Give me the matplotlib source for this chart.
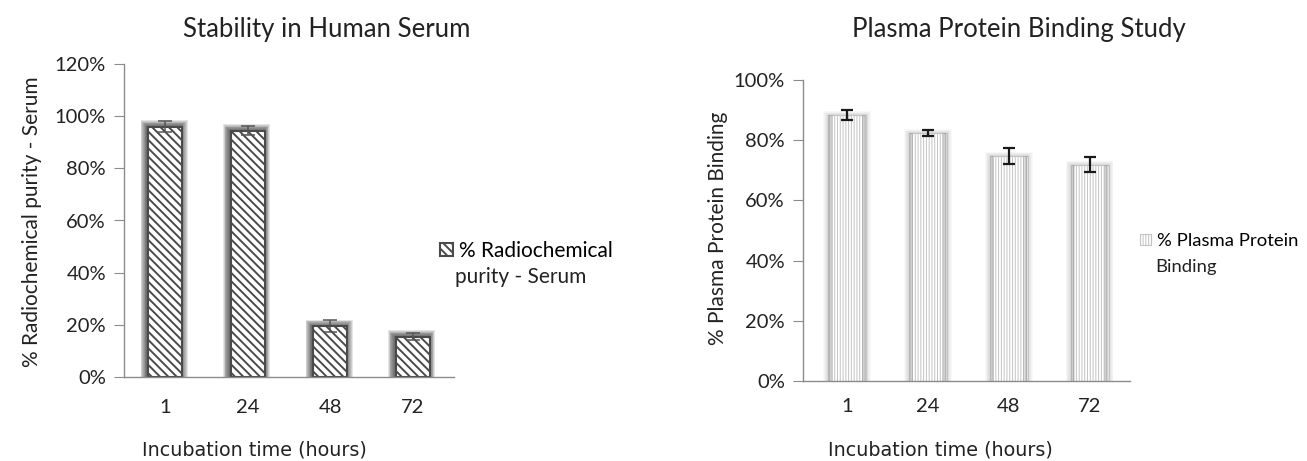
import numpy as np
import matplotlib
matplotlib.use("Agg")
import matplotlib.pyplot as plt
from matplotlib.ticker import PercentFormatter

# data
hours = ["1", "24", "48", "72"]
serum_purity = [96.0, 94.5, 19.5, 15.5]
serum_err = [2.2, 1.8, 2.3, 1.2]
protein_binding = [88.4, 82.4, 74.8, 71.8]
binding_err = [1.6, 1.0, 2.6, 2.5]

LABEL_FONT = ["Lato", "DejaVu Sans"]
AXIS_FONT = ["DejaVu Sans"]
W, H = 1307, 461


def px(x, y):
    """pixel position (from top-left) to figure fraction"""
    return x / W, 1 - y / H


def style_axes(ax, ymax):
    for side in ("top", "right"):
        ax.spines[side].set_visible(False)
    for side in ("left", "bottom"):
        ax.spines[side].set_color("#8c8c8c")
        ax.spines[side].set_linewidth(1.0)
    ax.set_ylim(0, ymax)
    ax.set_yticks(np.arange(0, ymax + 1, 20))
    ax.yaxis.set_major_formatter(PercentFormatter(decimals=0))
    ax.tick_params(axis="y", direction="out", length=7, color="#8c8c8c",
                   labelsize=14.5, pad=6, labelcolor="#222222")
    ax.tick_params(axis="x", length=0, labelsize=14.5, labelcolor="#222222")
    for lbl in ax.get_xticklabels() + ax.get_yticklabels():
        lbl.set_family(LABEL_FONT)


fig = plt.figure(figsize=(W / 100, H / 100), dpi=100)
x = np.arange(len(hours))

# ---- left panel: serum stability ----
ax1 = fig.add_axes([124 / W, 84 / H, 330 / W, 313 / H])
vals = np.array(serum_purity)
# dark glow behind bars, heavier on the left
for k in range(1, 9):
    ax1.bar(x - 0.015, vals + k * 0.3, width=0.41 + k * 0.02, color="0.15",
            alpha=0.12, linewidth=0, zorder=1)
plt.rcParams["hatch.linewidth"] = 1.4
bars1 = ax1.bar(x, vals, width=0.41, color="white", edgecolor="#4a4a4a",
                linewidth=1.5, hatch="\\\\\\\\", zorder=2,
                label="% Radiochemical")
ax1.errorbar(x, vals, yerr=serum_err, fmt="none", ecolor="#555555",
             elinewidth=1.1, capsize=5, capthick=1.1, zorder=3)
ax1.set_xlim(-0.5, 3.5)
ax1.set_xticks(x, hours)
style_axes(ax1, 120)
ax1.tick_params(axis="x", pad=16)

fig.text(*px(327, 29), "Stability in Human Serum", ha="center", va="center",
         fontsize=18.5, family=LABEL_FONT, color="#222222")
fig.text(*px(254, 450), "Incubation time (hours)", ha="center", va="center",
         fontsize=13.8, family=AXIS_FONT, color="#222222")
fig.text(*px(32, 222), "% Radiochemical purity - Serum", ha="center",
         va="center", rotation=90, fontsize=15, family=LABEL_FONT,
         color="#222222")
ax1.legend(handles=[bars1], loc="center left",
           bbox_to_anchor=px(440, 251), bbox_transform=fig.transFigure,
           frameon=False, handlelength=0.6, handleheight=0.6,
           handletextpad=0.3, borderpad=0, borderaxespad=0,
           prop={"family": LABEL_FONT, "size": 15})
fig.text(*px(455, 277), "purity - Serum", ha="left", va="center",
         fontsize=15, family=LABEL_FONT, color="#222222")

# ---- right panel: plasma protein binding ----
plt.rcParams["hatch.linewidth"] = 0.7
ax2 = fig.add_axes([803 / W, 80 / H, 327 / W, 301 / H])
vals2 = np.array(protein_binding)
for k in range(1, 7):
    ax2.bar(x, vals2 + k * 0.2, width=0.47 + k * 0.02, color="0.45",
            alpha=0.045, linewidth=0, zorder=1)
bars2 = ax2.bar(x, vals2, width=0.47, color="white", edgecolor="#c4c4c4",
                linewidth=0.8, hatch="||||||", zorder=2,
                label="% Plasma Protein")
# darker shading on bar sides
for off, a in ((-0.2, 0.22), (-0.215, 0.2), (0.2, 0.22), (0.215, 0.2)):
    ax2.bar(x + off, vals2, width=0.04, color="0.5", alpha=a,
            linewidth=0, zorder=2.5)
ax2.errorbar(x, vals2, yerr=binding_err, fmt="none", ecolor="#1a1a1a",
             elinewidth=1.6, capsize=4.5, capthick=1.6, zorder=3)
ax2.set_xlim(-0.545, 3.5)
ax2.set_xticks(x, hours)
style_axes(ax2, 100)
ax2.tick_params(axis="x", pad=12)

fig.text(*px(1019, 29), "Plasma Protein Binding Study", ha="center",
         va="center", fontsize=18.5, family=LABEL_FONT, color="#222222")
fig.text(*px(940, 450), "Incubation time (hours)", ha="center", va="center",
         fontsize=13.8, family=AXIS_FONT, color="#222222")
fig.text(*px(718, 228), "% Plasma Protein Binding", ha="center",
         va="center", rotation=90, fontsize=15, family=LABEL_FONT,
         color="#222222")
ax2.legend(handles=[bars2], loc="center left",
           bbox_to_anchor=px(1140, 241), bbox_transform=fig.transFigure,
           frameon=False, handlelength=0.6, handleheight=0.6,
           handletextpad=0.3, borderpad=0, borderaxespad=0,
           prop={"family": LABEL_FONT, "size": 13.3})
fig.text(*px(1155, 267), "Binding", ha="left", va="center",
         fontsize=13.3, family=LABEL_FONT, color="#222222")

fig.savefig("out.png", dpi=100)
